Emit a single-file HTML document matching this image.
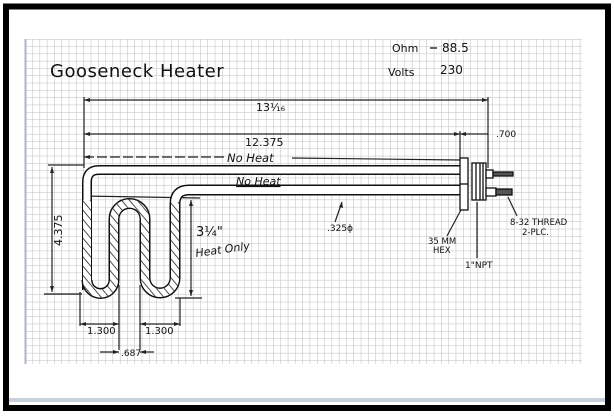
<!DOCTYPE html>
<html><head><meta charset="utf-8"><style>
html,body{margin:0;padding:0;background:#fff;}
svg{display:block;}
text{font-family:"DejaVu Sans","Liberation Sans",sans-serif;fill:#111;}
</style></head><body>
<svg width="614" height="416" viewBox="0 0 614 416" xmlns="http://www.w3.org/2000/svg">
<defs>
<pattern id="grid" x="25" y="39" width="7.3" height="7.3" patternUnits="userSpaceOnUse">
<path d="M0 0H7.3M0 0V7.3" stroke="#bdbdbd" stroke-width="1" fill="none"/>
</pattern>
<pattern id="hatch" width="6" height="6" patternUnits="userSpaceOnUse" patternTransform="rotate(-40)">
<rect width="6" height="6" fill="#fff"/>
<line x1="0" y1="0" x2="0" y2="6" stroke="#222" stroke-width="1.6"/>
</pattern>
</defs>
<rect width="614" height="416" fill="#fff"/>
<rect x="6" y="6.5" width="602" height="401.5" fill="none" stroke="#000" stroke-width="6"/>
<rect x="9" y="398" width="596" height="4" fill="#c8d0dc"/>
<rect x="25" y="39" width="557" height="325" fill="url(#grid)"/>
<line x1="25.5" y1="39" x2="25.5" y2="364" stroke="#aab4cc" stroke-width="2"/>

<text x="50" y="77" font-size="18" letter-spacing="0.5">Gooseneck Heater</text>
<text x="392" y="52" font-size="11">Ohm</text>
<line x1="430" y1="48" x2="437" y2="48" stroke="#111" stroke-width="1.3"/>
<text x="442" y="52" font-size="12">88.5</text>
<text x="388" y="76" font-size="11">Volts</text>
<text x="440" y="74" font-size="12">230</text>

<g stroke="#222" stroke-width="1.2" fill="none">
<line x1="84" y1="100" x2="488" y2="100"/>
<line x1="84" y1="97" x2="84" y2="168"/>
<line x1="488" y1="97" x2="488" y2="168"/>
<line x1="84" y1="134" x2="460" y2="134"/>
<line x1="460" y1="131" x2="460" y2="158"/>
<line x1="460" y1="134" x2="488" y2="134"/>
<line x1="84" y1="157" x2="225" y2="157" stroke-dasharray="10 3"/>
<line x1="292" y1="158" x2="460" y2="160"/>
<line x1="48" y1="165" x2="84" y2="165"/>
<line x1="52" y1="167" x2="52" y2="292"/>
<line x1="44" y1="294" x2="82" y2="294"/>
<line x1="82" y1="196" x2="200" y2="198"/>
<line x1="191" y1="200" x2="191" y2="296"/>
<line x1="175" y1="298" x2="202" y2="298"/>
<line x1="80" y1="292" x2="80" y2="326"/>
<line x1="119" y1="285" x2="119" y2="350"/>
<line x1="140" y1="285" x2="140" y2="350"/>
<line x1="180" y1="298" x2="180" y2="326"/>
<line x1="80" y1="324" x2="119" y2="324"/>
<line x1="140" y1="324" x2="180" y2="324"/>
<line x1="100" y1="352" x2="119" y2="352"/>
<line x1="140" y1="352" x2="154" y2="352"/>
<line x1="342" y1="202" x2="335" y2="222"/>
<line x1="462" y1="208" x2="447" y2="236"/>
<line x1="477" y1="202" x2="477" y2="258"/>
<line x1="508" y1="197" x2="517" y2="216"/>
</g>
<g fill="#222">
<path d="M84 100l6-2v4z M488 100l-6-2v4z M84 134l6-2v4z M460 134l-6-2v4z M460 134l6-2v4z M84 157l6-2v4z"/>
<path d="M52 167l-2 6h4z M52 292l-2-6h4z M191 200l-2 6h4z M191 296l-2-6h4z"/>
<path d="M80 324l6-2v4z M119 324l-6-2v4z M140 324l6-2v4z M180 324l-6-2v4z M119 352l-6-2v4z M140 352l6-2v4z"/>
<path d="M342 202l-3 5 4 1z"/>
</g>

<g fill="none" stroke-linejoin="round">
<path d="M87 290V182Q87 170 99 170H460" stroke="#111" stroke-width="10"/>
<path d="M87 290V182Q87 170 99 170H460" stroke="#fff" stroke-width="7"/>
<path d="M87 280a13.5 13.5 0 0 0 27 0V219a15.5 15.5 0 0 1 31 0V278a15 15 0 0 0 30 0V204Q175 190 189 190H460" stroke="#111" stroke-width="11"/>
<path d="M87 280a13.5 13.5 0 0 0 27 0V219a15.5 15.5 0 0 1 31 0V278a15 15 0 0 0 30 0V204Q175 190 189 190H460" stroke="#fff" stroke-width="8"/>
<path d="M87 200V280a13.5 13.5 0 0 0 27 0V219a15.5 15.5 0 0 1 31 0V278a15 15 0 0 0 30 0V202" stroke="url(#hatch)" stroke-width="8"/>
</g>

<g stroke="#111" stroke-width="1.3" fill="#fff">
<rect x="460" y="158" width="8" height="52"/>
<line x1="460" y1="184" x2="468" y2="184"/>
<rect x="472" y="163" width="14" height="37"/>
<line x1="476" y1="163" x2="476" y2="200"/>
<line x1="480" y1="163" x2="480" y2="200"/>
<line x1="483" y1="163" x2="483" y2="200"/>
<rect x="486" y="170" width="7" height="8"/>
<rect x="493" y="172" width="20" height="4" fill="#555"/>
<rect x="486" y="188" width="10" height="8"/>
<rect x="496" y="189" width="16" height="6" fill="#555"/>
</g>

<text x="256" y="111" font-size="11">13¹⁄₁₆</text>
<text x="245" y="146" font-size="11">12.375</text>
<text x="227" y="162" font-size="11.5" font-style="italic">No Heat</text>
<text x="236" y="185" font-size="11" font-style="italic" text-decoration="underline">No Heat</text>
<text x="327" y="231" font-size="9">.325ϕ</text>
<text x="428" y="244" font-size="8.5">35 MM</text>
<text x="433" y="253" font-size="8.5">HEX</text>
<text x="465" y="268" font-size="9">1"NPT</text>
<text x="510" y="225" font-size="8.5">8-32 THREAD</text>
<text x="522" y="235" font-size="8.5">2-PLC.</text>
<text x="496" y="137" font-size="9">.700</text>
<text x="196" y="236" font-size="13">3¼"</text>
<text x="196" y="257" font-size="11" font-style="italic" transform="rotate(-8 196 257)">Heat Only</text>
<text x="62" y="246" font-size="11" transform="rotate(-90 62 246)">4.375</text>
<text x="87" y="334" font-size="10">1.300</text>
<text x="145" y="334" font-size="10">1.300</text>
<text x="121" y="356" font-size="9">.687</text>
</svg>
</body></html>
